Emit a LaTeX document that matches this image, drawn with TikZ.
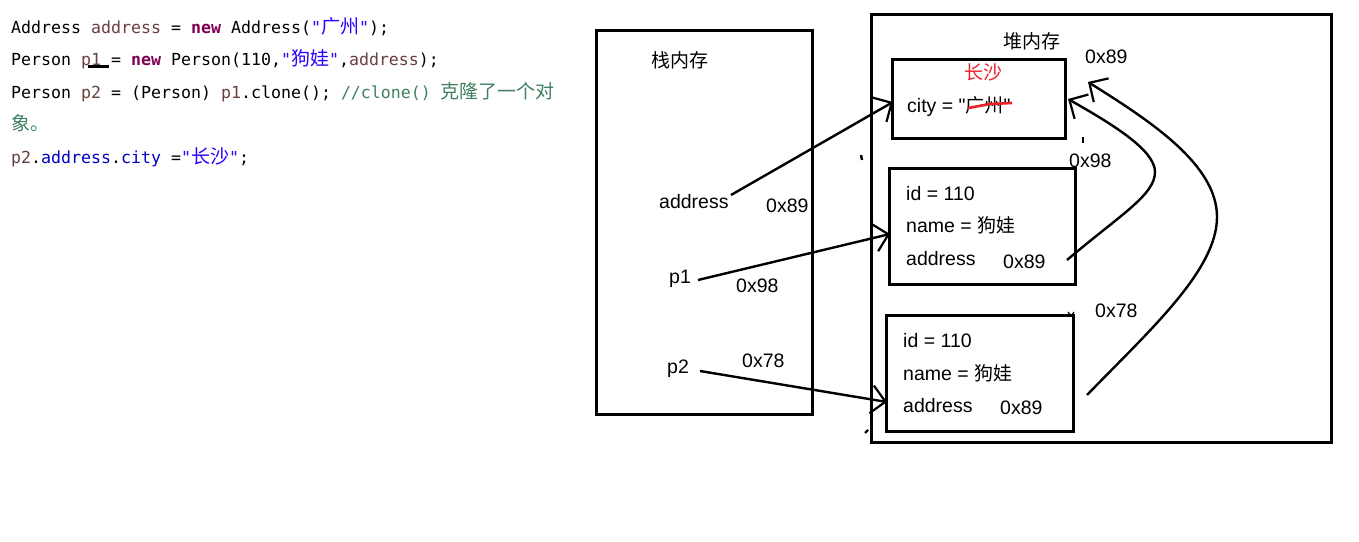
\documentclass[tikz,border=0pt]{standalone}
\usepackage{fontspec}
\newfontfamily\dfont{Liberation Sans}
\newfontfamily\cjk{Noto Sans CJK SC}
\newfontfamily\codefont{DejaVu Sans Mono}
\usetikzlibrary{arrows.meta}
\definecolor{kw}{HTML}{7F0055}
\definecolor{strc}{HTML}{2A00FF}
\definecolor{varc}{HTML}{6A3E3E}
\definecolor{fldc}{HTML}{0000C0}
\definecolor{cmtc}{HTML}{3F7F5F}
\definecolor{redc}{HTML}{E8202A}
\newcommand\czh[1]{{\cjk\fontsize{19}{22}\selectfont #1}}
\newcommand\dzh[1]{{\cjk\fontsize{19}{22}\selectfont #1}}
\tikzset{
  code/.style={anchor=base west,inner sep=0pt,font=\codefont\fontsize{16.6}{20}\selectfont},
  txt/.style={anchor=base west,inner sep=0pt,font=\dfont\fontsize{19.5}{22}\selectfont},
  ztxt/.style={anchor=center,inner sep=0pt,font=\cjk\fontsize{19}{22}\selectfont},
  boxr/.style={draw,line width=3pt},
  arr/.style={line width=2.4pt,-{Straight Barb[length=14pt,width=28pt,line width=2.2pt]}},
  penmark/.style={line width=2.4pt}
}
\begin{document}
\begin{tikzpicture}[x=1pt,y=-1pt]
\useasboundingbox (0,0) rectangle (1359,541);
% code
\node[code] (c1) at (11,33) {Address \textcolor{varc}{address} = \textcolor{kw}{\bfseries new} Address(\textcolor{strc}{"\czh{广州}"});};
\node[code] (c2) at (11,65) {Person \textcolor{varc}{p1} = \textcolor{kw}{\bfseries new} Person(110,\textcolor{strc}{"\czh{狗娃}"},\textcolor{varc}{address});};
\node[code] (c3) at (11,98) {Person \textcolor{varc}{p2} = (Person) \textcolor{varc}{p1}.clone(); \textcolor{cmtc}{//clone() \czh{克隆了一个对}}};
\node[code] (c4) at (11,130) {\textcolor{cmtc}{\czh{象。}}};
\node[code] (c5) at (11,163) {\textcolor{varc}{p2}.\textcolor{fldc}{address}.\textcolor{fldc}{city} =\textcolor{strc}{"\czh{长沙}"};};
\draw[line width=3pt] (88,66) -- (109,66);
% stack
\node[boxr,minimum width=216pt,minimum height=384pt,anchor=north west,inner sep=0pt] (stack) at (595,29) {};
\node[ztxt] (stl) at (680,60) {栈内存};
\node[txt] (sa) at (659,208) {address};
\node[txt] (sa89) at (766,212) {0x89};
\node[txt] (sp1) at (669,283) {p1};
\node[txt] (sp98) at (736,292) {0x98};
\node[txt] (sp2) at (667,373) {p2};
\node[txt] (sp78) at (742,367) {0x78};
% heap
\node[boxr,minimum width=460pt,minimum height=428pt,anchor=north west,inner sep=0pt] (heap) at (870,13) {};
\node[ztxt] (hl) at (1032,41) {堆内存};
\node[txt] (h89) at (1085,63) {0x89};
\node[txt] (h98) at (1069,167) {0x98};
\node[txt] (h78) at (1095,317) {0x78};
% address object
\node[boxr,minimum width=173pt,minimum height=79pt,anchor=north west,inner sep=0pt] (addr) at (891,58) {};
\node[ztxt,text=redc] (cs) at (983,72) {长沙};
\node[txt] (city) at (907,112) {city = "\dzh{广州}"};
\draw[redc,line width=2.6pt] (968,108) -- (990,104) -- (1012,103);
% person 1
\node[boxr,minimum width=186pt,minimum height=116pt,anchor=north west,inner sep=0pt] (per1) at (888,167) {};
\node[txt] (p1id) at (906,200) {id = 110};
\node[txt] (p1nm) at (906,232) {name = \dzh{狗娃}};
\node[txt] (p1ad) at (906,265) {address};
\node[txt] (p1v) at (1003,268) {0x89};
% person 2
\node[boxr,minimum width=187pt,minimum height=116pt,anchor=north west,inner sep=0pt] (per2) at (885,314) {};
\node[txt] (p2id) at (903,347) {id = 110};
\node[txt] (p2nm) at (903,380) {name = \dzh{狗娃}};
\node[txt] (p2ad) at (903,412) {address};
\node[txt] (p2v) at (1000,414) {0x89};
% connector endpoints
\coordinate (aS) at (731,195);
\coordinate (aT) at (893,102);
\coordinate (bS) at (698,280);
\coordinate (bT) at (890,234);
\coordinate (cS) at (700,371);
\coordinate (cT) at (887,402);
\coordinate (dS) at (1067,260);
\coordinate (dM) at (1155,172);
\coordinate (dT) at (1068,99);
\coordinate (eS) at (1087,395);
\coordinate (eM) at (1217,217);
\coordinate (eT) at (1088,82);
\draw[arr] (aS) -- (aT);
\draw[arr] (bS) -- (bT);
\draw[arr] (cS) -- (cT);
\draw[arr] (dS) .. controls (1120,215) and (1155,195) .. (dM) .. controls (1155,150) and (1112,124) .. (dT);
\draw[arr] (eS) .. controls (1150,330) and (1217,270) .. (eM) .. controls (1217,165) and (1152,122) .. (eT);
% stray pen marks
\draw[penmark] (861,155) -- (862,160);
\draw[penmark] (1083,137) -- (1083,143);
\draw[penmark] (865,433) -- (868,430);
\draw[line width=1.2pt] (1068,312) -- (1071,316) -- (1074,312);
\end{tikzpicture}
\end{document}
